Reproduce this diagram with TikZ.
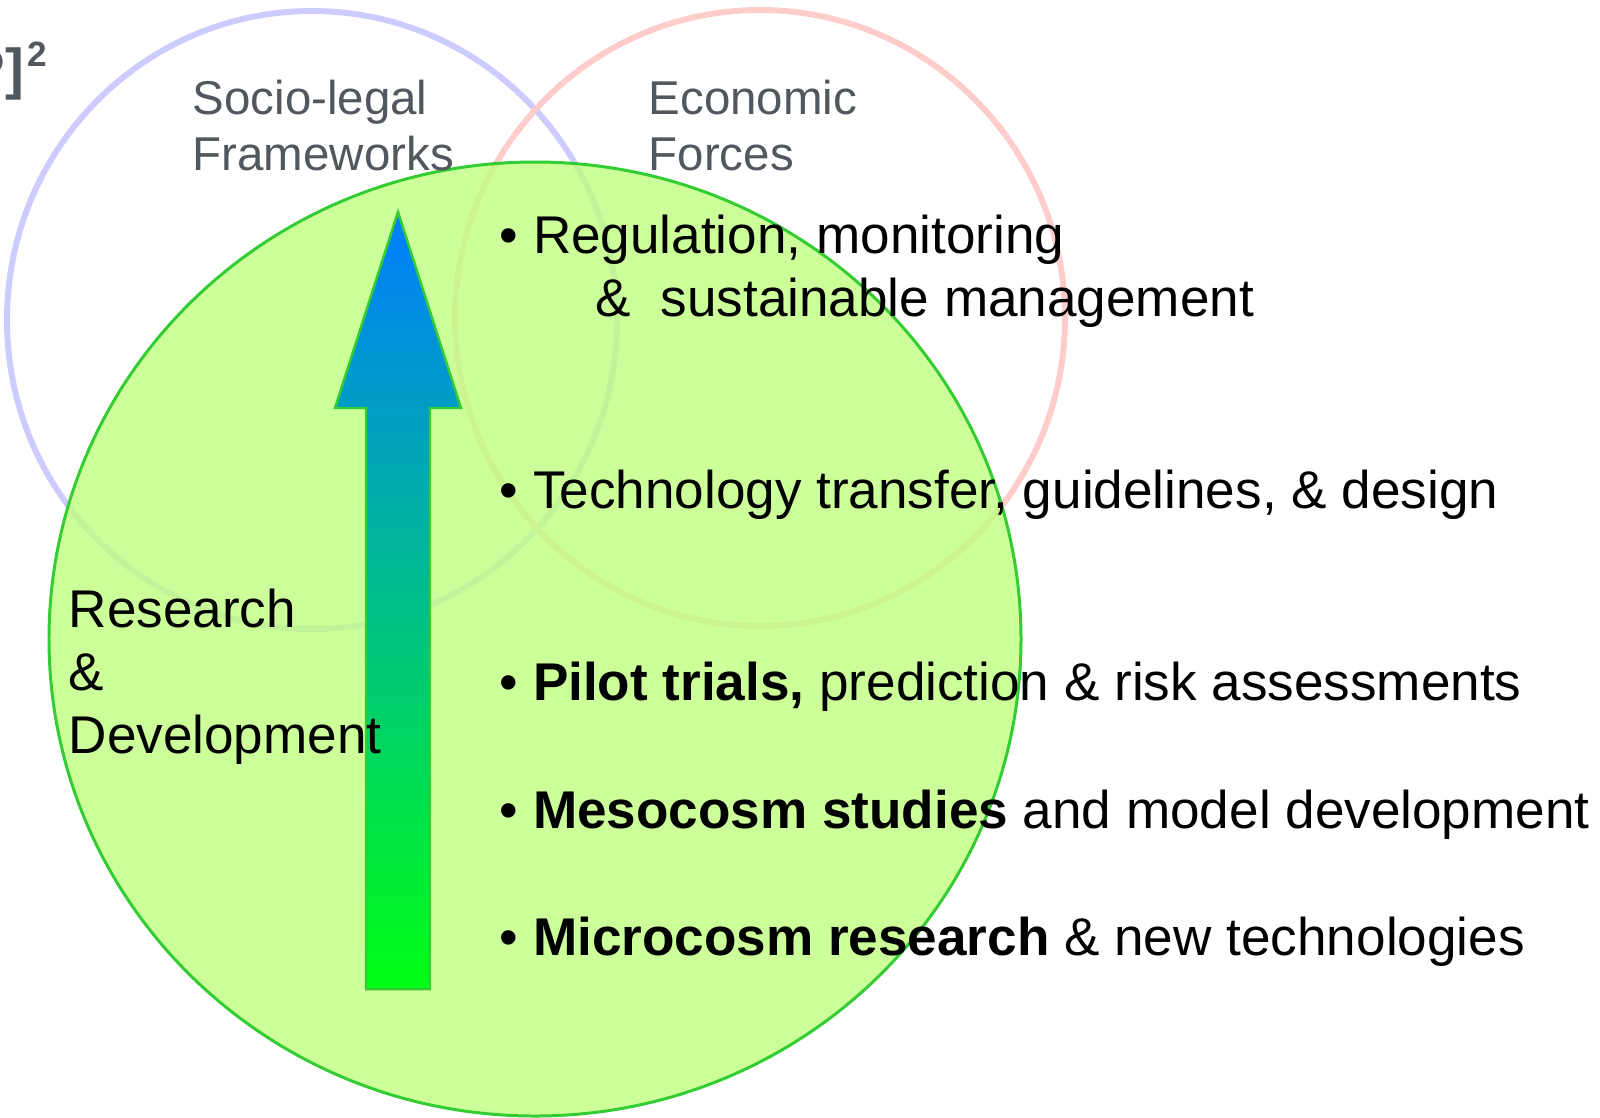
\documentclass[tikz,border=0pt]{standalone}
\usepackage{fontspec}
\setmainfont{Liberation Sans}
\definecolor{ringblue}{RGB}{204,204,255}
\definecolor{ringred}{RGB}{255,204,204}
\definecolor{rdfill}{RGB}{191,255,127}
\definecolor{rdline}{RGB}{51,204,51}
\definecolor{labelgray}{RGB}{82,87,94}
\definecolor{arrowtop}{RGB}{0,125,255}
\definecolor{arrowmid}{RGB}{0,226,215}
\definecolor{arrowbot}{RGB}{0,255,20}
\begin{document}
\begin{tikzpicture}
	[x=0.01cm,y=-0.01cm,
	ring/.style={line width=1.7pt},
	label/.style={inner sep=0pt,anchor=base west,text=labelgray,align=left,font=\fontsize{13.5}{15.9}\selectfont},
	item/.style={inner sep=0pt,anchor=base west,align=left,font=\fontsize{15.1}{17.9}\selectfont}]
	\useasboundingbox (0,0) rectangle (1600,1117);
	% the two outer fields
	\draw[ring,ringblue](312,320) ellipse [x radius=305,y radius=309];
	\draw[ring,ringred](760,318) ellipse [x radius=305,y radius=308];
	% research & development field on top
	\draw[rdline,line width=0.85pt,fill=rdfill,fill opacity=0.8](535,639) ellipse [x radius=486,y radius=477];
	% rising arrow
	\shadedraw[rdline,line width=0.7pt,top color=arrowtop,middle color=arrowmid,bottom color=arrowbot]
		(398,212)--(461,408)--(430,408)--(430,989)--(366,989)--(366,408)--(335,408)--cycle;
	\node[name=title,inner sep=0pt,anchor=base east,text=labelgray,font=\fontsize{16}{19}\selectfont\bfseries]
		at (48,88) {P]\hspace{1pt}\raisebox{0.22cm}{\fontsize{10}{12}\selectfont 2}};
	% multi-line nodes sit on the baseline of their last line
	\node[label,name=socio] at (192,170) {Socio-legal\\Frameworks};
	\node[label,name=econ] at (648,170) {Economic\\Forces};
	\node[item,name=rd] at (68,753) {Research\\\&\\Development};
	\node[item,name=reg] at (499,316) {• Regulation, monitoring\\\hspace*{1.81em}\&~~sustainable management};
	\node[item,name=tech] at (499,508) {• Technology transfer, guidelines, \& design};
	\node[item,name=pilot] at (499,700) {• \textbf{Pilot trials,} prediction \& risk assessments};
	\node[item,name=meso] at (499,828) {• \textbf{Mesocosm studies} and model development};
	\node[item,name=micro] at (499,955) {• \textbf{Microcosm research} \& new technologies};
\end{tikzpicture}
\end{document}
